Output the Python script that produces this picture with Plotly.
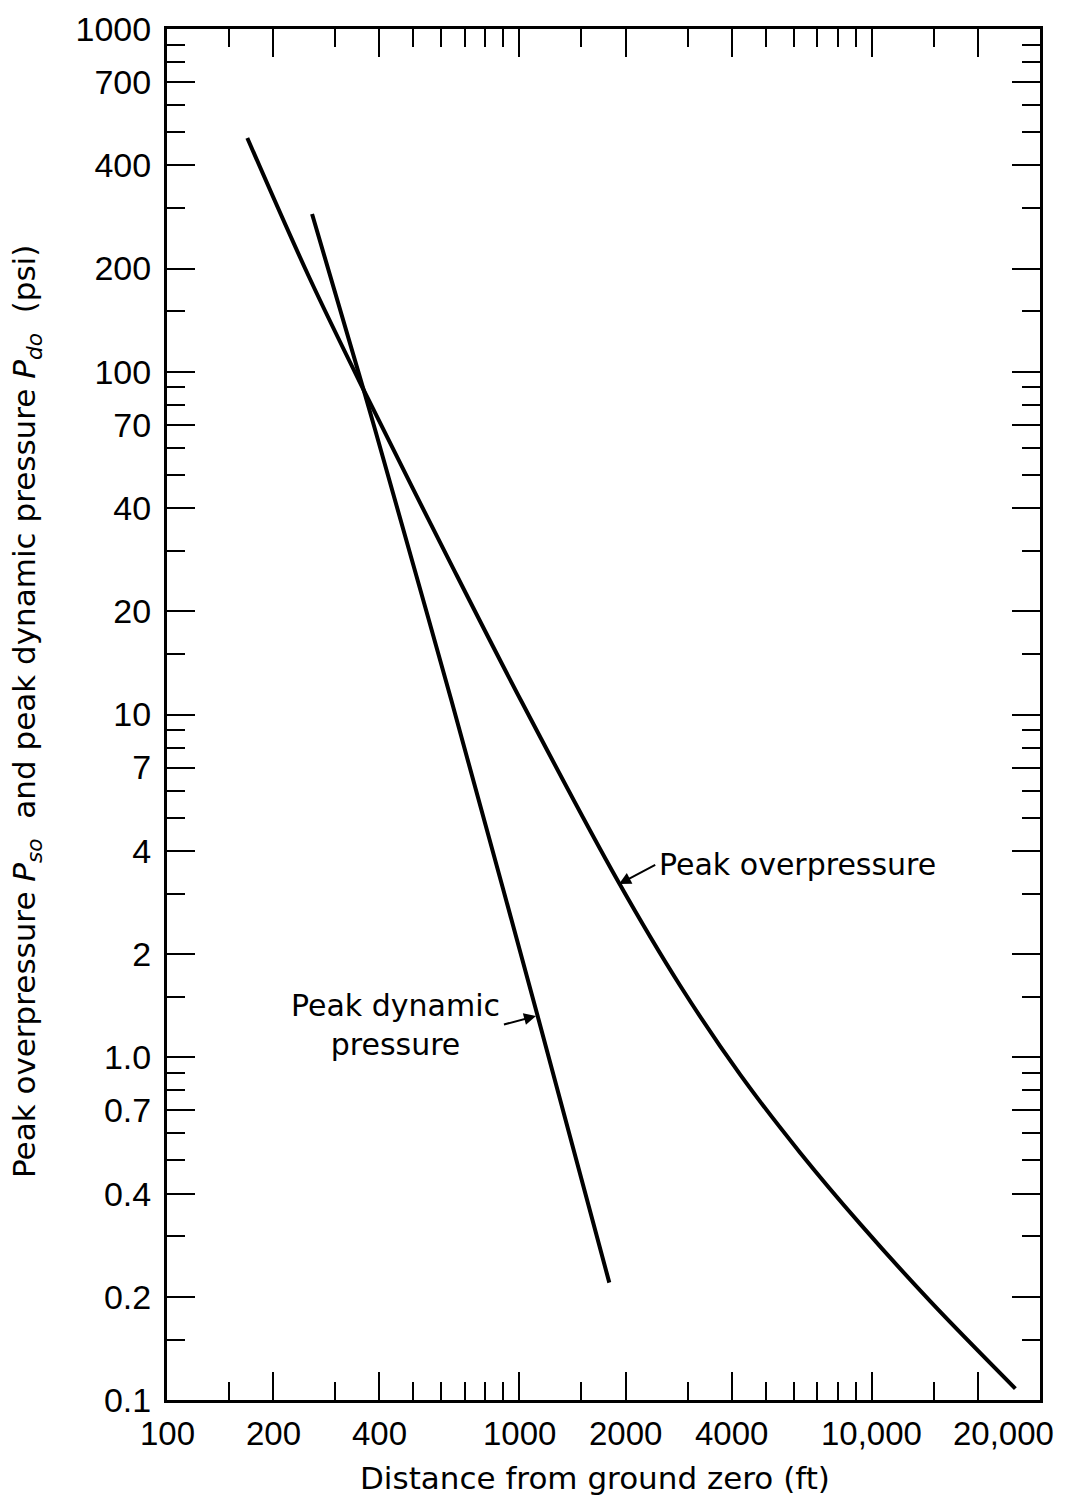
import numpy as np
import plotly.graph_objects as go

# ---- data ----
over_x = [169, 253, 365, 637, 1019, 1896, 2862, 4236, 6267, 9277, 14655, 25540]
over_y = [481, 189.0, 86.7, 27.7, 10.8, 3.29, 1.614, 0.888, 0.526, 0.326, 0.194, 0.108]

dyn_x = [258, 365, 500, 641, 1124, 1799]
dyn_y = [288.5, 85.5, 27.3, 11.0, 1.33, 0.22]

x_tickvals = [100, 200, 400, 1000, 2000, 4000, 10000, 20000]
x_ticktext = ["100", "200", "400", "1000", "2000", "4000", "10,000", "20,000"]
x_minor = [150, 300, 500, 600, 700, 800, 900, 1500, 3000, 5000, 6000, 7000,
           8000, 9000, 15000]

y_tickvals = [1000, 700, 400, 200, 100, 70, 40, 20, 10, 7, 4, 2, 1, 0.7, 0.4, 0.2, 0.1]
y_ticktext = ["1000", "700", "400", "200", "100", "70", "40", "20", "10", "7", "4",
              "2", "1.0", "0.7", "0.4", "0.2", "0.1"]
y_minor = [900, 800, 600, 500, 300, 150, 90, 80, 60, 50, 30, 15, 9, 8, 6, 5, 3, 1.5,
           0.9, 0.8, 0.6, 0.5, 0.3, 0.15]

# ---- layout geometry ----
W, H = 1070, 1503
L, R, T, B = 167, 1040, 29, 1400
XR = [2, np.log10(30000)]
YR = [-1, 3]


def px_to_log(px, py):
    lx = XR[0] + (px - L) / (R - L) * (XR[1] - XR[0])
    ly = YR[1] - (py - T) / (B - T) * (YR[1] - YR[0])
    return lx, ly


def px_to_paper(px, py):
    return (px - L) / (R - L), (B - py) / (B - T)


fig = go.Figure()
fig.add_trace(go.Scatter(x=over_x, y=over_y, mode="lines",
                         line=dict(color="black", width=4, shape="spline", smoothing=1.0),
                         showlegend=False, hoverinfo="skip"))
fig.add_trace(go.Scatter(x=dyn_x, y=dyn_y, mode="lines",
                         line=dict(color="black", width=4, shape="spline", smoothing=1.0),
                         showlegend=False, hoverinfo="skip"))

xtickfont = dict(family="Liberation Sans, Arial, sans-serif", size=33, color="black")
ytickfont = dict(family="Liberation Sans, Arial, sans-serif", size=34, color="black")
textfont = dict(family="DejaVu Sans, sans-serif", size=31, color="black")

axis_common = dict(showline=True, linecolor="black", linewidth=3, mirror="allticks",
                   ticks="inside", ticklen=28, tickwidth=2, tickcolor="black",
                   showgrid=False, zeroline=False, automargin=False, tickangle=0)

fig.update_xaxes(type="log", range=XR, tickmode="array", tickvals=x_tickvals,
                 showticklabels=False,
                 minor=dict(tickmode="array", tickvals=x_minor, ticks="inside",
                            ticklen=18, tickwidth=2, tickcolor="black", showgrid=False),
                 **axis_common)
fig.update_yaxes(type="log", range=YR, tickmode="array", tickvals=y_tickvals,
                 ticktext=y_ticktext, ticklabelstandoff=6, tickfont=ytickfont,
                 minor=dict(tickmode="array", tickvals=y_minor, ticks="inside",
                            ticklen=18, tickwidth=2, tickcolor="black", showgrid=False),
                 **axis_common)

annotations = []
# x tick labels placed on the x axis scale (last one nudged right as in the original)
for v, t in zip(x_tickvals, x_ticktext):
    shift = 26 if v == x_tickvals[-1] else 0
    annotations.append(dict(x=np.log10(v), xref="x", y=0, yref="paper", text=t,
                            showarrow=False, font=xtickfont, xanchor="center",
                            yanchor="middle", yshift=-33, xshift=shift))
# axis titles
xp, yp = px_to_paper(595, 1478)
annotations.append(dict(xref="paper", yref="paper", x=xp, y=yp, showarrow=False,
                        text="Distance from ground zero (ft)", font=textfont,
                        xanchor="center", yanchor="middle"))
xp, yp = px_to_paper(27, 712)
annotations.append(dict(xref="paper", yref="paper", x=xp, y=yp, showarrow=False,
                        textangle=-90,
                        text="Peak overpressure <i>P<sub>so</sub></i>  and peak dynamic pressure <i>P<sub>do</sub></i>  (psi)",
                        font=textfont, xanchor="center", yanchor="middle"))
# curve labels with arrows
labfont = dict(family="DejaVu Sans, sans-serif", size=30, color="black")
hx, hy = px_to_log(619, 884)
annotations.append(dict(x=hx, y=hy, xref="x", yref="y", showarrow=True,
                        ax=38, ay=-20, text="Peak overpressure", font=labfont,
                        xanchor="left", yanchor="middle", startstandoff=2,
                        arrowhead=2, arrowsize=1.2, arrowwidth=2, arrowcolor="black"))
hx, hy = px_to_log(536, 1016)
annotations.append(dict(x=hx, y=hy, xref="x", yref="y", showarrow=True,
                        ax=-34, ay=9, text="Peak dynamic<br>pressure", font=labfont,
                        align="center", xanchor="right", yanchor="middle",
                        startstandoff=2,
                        arrowhead=2, arrowsize=1.2, arrowwidth=2, arrowcolor="black"))

fig.update_layout(width=W, height=H, autosize=False,
                  margin=dict(l=L, r=W - R, t=T, b=H - B, pad=0),
                  paper_bgcolor="white", plot_bgcolor="white",
                  annotations=annotations)

fig.write_html("out.html")
